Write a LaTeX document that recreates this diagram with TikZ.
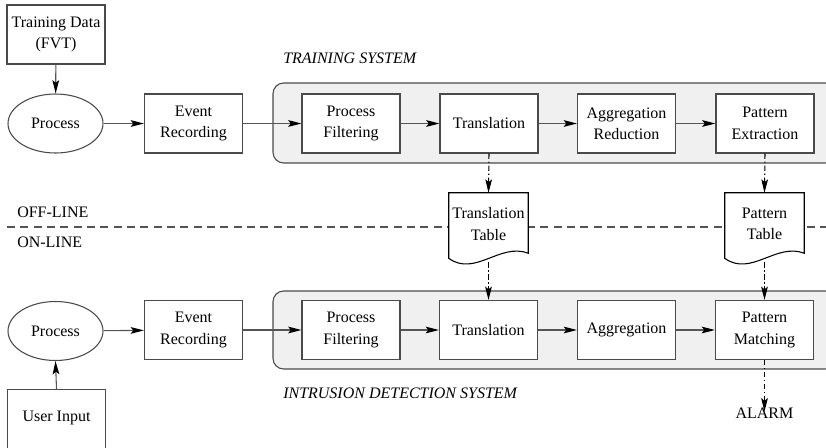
\documentclass[tikz,border=0pt]{standalone}
\usepackage{fontspec}
\setmainfont{Liberation Serif}
\usetikzlibrary{arrows.meta,calc,shapes.geometric}
\definecolor{edgegray}{HTML}{4A4A4A}
\definecolor{linegray}{HTML}{555555}
\definecolor{panelfill}{HTML}{F0F0F0}
\begin{document}
\begin{tikzpicture}[x=0.75pt,y=-0.75pt,
  every node/.style={font=\fontsize{12}{16}\selectfont},
  box/.style={draw=edgegray,line width=0.8pt,fill=white,minimum width=73.5pt,minimum height=44.25pt,align=center,inner sep=1pt},
  oval/.style={ellipse,draw=edgegray,line width=0.8pt,fill=white,minimum width=71.25pt,minimum height=44.25pt,inner sep=0pt},
  docbox/.style={minimum width=59.25pt,minimum height=45pt,inner sep=0pt},
  doctext/.style={align=center,inner sep=0pt},
  panel/.style={draw=edgegray,line width=0.8pt,fill=panelfill,rounded corners=8pt},
  flow/.style={draw=linegray,line width=0.8pt,-{Stealth[length=10pt,width=5pt,inset=2pt,color=black]}},
  dflow/.style={draw=black,line width=0.8pt,dash pattern=on 4pt off 2pt on 1pt off 2pt,-{Stealth[length=10pt,width=5pt,inset=2pt,color=black]}},
  lab/.style={inner sep=0pt}
]
\useasboundingbox (0,0) rectangle (826,447);
\clip (0,0) rectangle (826,447);

% panels
\draw[panel] (273,83) rectangle (836,163);
\draw[panel] (273,291) rectangle (836,369);

% separator
\draw[linegray,line width=0.8pt,dash pattern=on 6pt off 4pt] (7,227) -- (826,227);
\node[lab,anchor=west] (offl) at (17,212) {OFF-LINE};
\node[lab,anchor=west] (onl) at (17,242) {ON-LINE};

% labels
\node[lab,anchor=west,font=\fontsize{12}{16}\selectfont\itshape] (tslab) at (283,58) {TRAINING SYSTEM};
\node[lab,anchor=west,font=\fontsize{12}{16}\selectfont\itshape] (idslab) at (283,393) {INTRUSION DETECTION SYSTEM};

% training row
\node[box] (td) at (56,34.5) {Training Data\\(FVT)};
\node[oval] (p1) at (55.5,123.5) {Process};
\node[box] (er1) at (193.5,123.5) {Event\\Recording};
\node[box] (pf1) at (351,123.5) {Process\\Filtering};
\node[box] (tr1) at (489,123.5) {Translation};
\node[box] (ag1) at (626.5,123.5) {Aggregation\\Reduction};
\node[box] (pe1) at (765,123.5) {Pattern\\Extraction};

% documents
\node[docbox] (tt) at (488.5,223) {};
\node[docbox] (pt) at (764.5,223) {};
\foreach \d in {tt,pt}{
  \draw[black,line width=0.8pt,fill=white] (\d.north west) -- (\d.north east) -- (\d.south east)
    .. controls ($(\d.south east)+(-28,-11)$) and ($(\d.south west)+(26,24)$) .. ($(\d.south west)+(0,5)$) -- cycle;
}
\node[doctext] (tttext) at (488.5,224) {Translation\\Table};
\node[doctext] (pttext) at (764.5,224) {Pattern\\Table};
\coordinate (ttb) at ($(tt.south)+(0,9)$);
\coordinate (ptb) at ($(pt.south)+(0,9)$);

% online row
\node[oval] (p2) at (55.5,331) {Process};
\node[box,anchor=north] (ui) at (56.5,389) {};
\node[lab] (uitext) at (56.5,418) {User Input};
\node[box] (er2) at (193.5,330) {Event\\Recording};
\node[box] (pf2) at (351,330) {Process\\Filtering};
\node[box] (tr2) at (488.5,330) {Translation};
\node[box] (ag2) at (626.5,330) {Aggregation};
\node[box] (pm2) at (764.5,330) {Pattern\\Matching};
\node[lab] (alarm) at (764.5,413) {ALARM};

% connectors training
\draw[flow] (td) -- (p1);
\draw[flow] (p1) -- (er1);
\draw[flow] (er1) -- (pf1);
\draw[flow] (pf1) -- (tr1);
\draw[flow] (tr1) -- (ag1);
\draw[flow] (ag1) -- (pe1);
\draw[dflow] (tr1.south) -- (tt.north);
\draw[dflow] (pe1.south) -- (pt.north);
\draw[dflow] (ttb) -- (tr2.north);
\draw[dflow] (ptb) -- (pm2.north);

% connectors online
\draw[flow] (ui.north) -- (p2.south);
\draw[flow] (p2) -- (er2);
\draw[flow] (er2) -- (pf2);
\draw[flow] (pf2) -- (tr2);
\draw[flow] (tr2) -- (ag2);
\draw[flow] (ag2) -- (pm2);
\draw[dflow] (pm2.south) -- ([yshift=-3pt]alarm.north);
\end{tikzpicture}
\end{document}
